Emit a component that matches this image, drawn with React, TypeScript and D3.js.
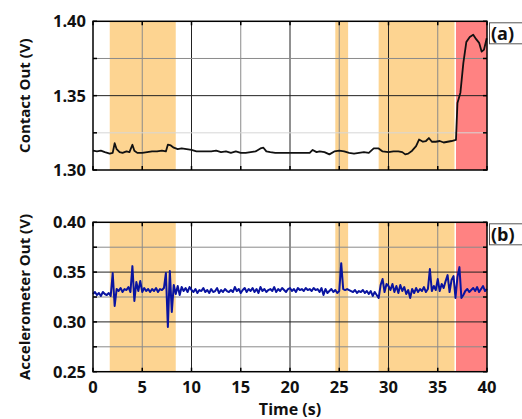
import React from "react";
import * as d3 from "d3";

const width = 522;
const height = 419;
const plotLeft = 93;
const plotRight = 487;

// time axis
const xTicks = [0, 5, 10, 15, 20, 25, 30, 35, 40];

// shaded event windows (s)
const orangeBands = [
  [1.7, 8.4],
  [24.6, 25.9],
  [29.0, 36.7],
];
const redBands = [[36.85, 40]];

// (a) contact sensor output
const contactTime = [
  0, 0.4, 0.8, 1.2, 1.7, 2.0, 2.2, 2.4, 2.7, 3.0, 3.4, 3.7, 4.0, 4.2, 4.5, 5.0,
  5.5, 6.0, 6.5, 7.0, 7.4, 7.6, 7.9, 8.2, 8.6, 9.0, 9.5, 10.0, 10.5, 11.0, 11.5,
  12.0, 12.5, 13.0, 13.5, 14.0, 14.5, 15.0, 15.5, 16.0, 16.5, 17.0, 17.3, 17.6,
  18.0, 18.5, 19.0, 19.5, 20.0, 21.0, 21.5, 22.0, 22.3, 22.7, 23.0, 23.5, 24.0,
  24.5, 25.0, 25.5, 26.0, 26.5, 27.0, 27.5, 28.0, 28.5, 29.0, 29.4, 30.0, 30.5,
  31.0, 31.4, 31.7, 32.0, 32.4, 32.8, 33.1, 33.5, 33.8, 34.1, 34.4, 34.8, 35.2,
  35.6, 36.0, 36.4, 36.85, 37.0, 37.3, 37.6, 37.9, 38.25, 38.6, 38.9, 39.2,
  39.46, 39.7, 39.97,
];
const contactOut = [
  1.313, 1.3125, 1.313, 1.312, 1.311, 1.3115, 1.318, 1.314, 1.312, 1.3115,
  1.3125, 1.312, 1.317, 1.313, 1.3115, 1.3115, 1.312, 1.3125, 1.3125, 1.313,
  1.3125, 1.317, 1.3165, 1.315, 1.314, 1.3145, 1.314, 1.3135, 1.3125, 1.3125,
  1.3125, 1.3125, 1.313, 1.312, 1.3125, 1.3115, 1.3125, 1.3115, 1.3115, 1.312,
  1.3125, 1.3145, 1.315, 1.3125, 1.312, 1.3115, 1.3115, 1.3115, 1.3115, 1.3115,
  1.3115, 1.3115, 1.3135, 1.312, 1.3125, 1.312, 1.3105, 1.3125, 1.313, 1.3125,
  1.3115, 1.311, 1.3115, 1.312, 1.3115, 1.3145, 1.3145, 1.3125, 1.312, 1.3125,
  1.3125, 1.312, 1.3105, 1.311, 1.313, 1.316, 1.3205, 1.319, 1.3195, 1.3215,
  1.319, 1.319, 1.3195, 1.3185, 1.319, 1.3195, 1.3202, 1.345, 1.352, 1.372,
  1.386, 1.3895, 1.391, 1.388, 1.3855, 1.3796, 1.381, 1.3886,
];

// (b) accelerometer output, one sample every 0.2 s
const accelStep = 0.2;
const accelOut = [
  0.328, 0.33, 0.327, 0.329, 0.326, 0.33, 0.328, 0.327, 0.329, 0.326,
  0.349, 0.316, 0.333, 0.331, 0.334, 0.33, 0.333, 0.332, 0.335, 0.33,
  0.356, 0.321, 0.34, 0.331, 0.341, 0.33, 0.334, 0.331, 0.333, 0.33,
  0.333, 0.331, 0.334, 0.33, 0.333, 0.332, 0.334, 0.349, 0.295, 0.351,
  0.31, 0.337, 0.328, 0.336, 0.327, 0.335, 0.331, 0.334, 0.33, 0.335,
  0.332, 0.33, 0.333, 0.329, 0.332, 0.331, 0.334, 0.33, 0.332, 0.329,
  0.333, 0.33, 0.331, 0.334, 0.329, 0.332, 0.33, 0.333, 0.331, 0.33,
  0.332, 0.33, 0.335, 0.331, 0.333, 0.329, 0.332, 0.334, 0.33, 0.333,
  0.331, 0.334, 0.33, 0.333, 0.329, 0.335, 0.331, 0.333, 0.33, 0.332,
  0.333, 0.331, 0.335, 0.33, 0.333, 0.331, 0.334, 0.332, 0.33, 0.333,
  0.334, 0.331, 0.333, 0.33, 0.334, 0.332, 0.333, 0.331, 0.334, 0.332,
  0.333, 0.331, 0.334, 0.332, 0.333, 0.33, 0.334, 0.327, 0.333, 0.329,
  0.331, 0.333, 0.33, 0.332, 0.329, 0.331, 0.359, 0.333, 0.332, 0.333,
  0.332, 0.331, 0.33, 0.332, 0.329, 0.331, 0.33, 0.332, 0.329, 0.331,
  0.328, 0.331, 0.326, 0.33, 0.327, 0.324, 0.337, 0.343, 0.33, 0.338,
  0.336, 0.332, 0.338, 0.33, 0.336, 0.329, 0.337, 0.331, 0.335, 0.328,
  0.332, 0.324, 0.333, 0.329, 0.334, 0.33, 0.333, 0.331, 0.335, 0.33,
  0.333, 0.353, 0.331, 0.336, 0.332, 0.343, 0.331, 0.338, 0.334, 0.341,
  0.347, 0.33, 0.342, 0.346, 0.324, 0.345, 0.355, 0.324, 0.327, 0.331,
  0.333, 0.33, 0.332, 0.334, 0.331, 0.335, 0.33, 0.333, 0.336, 0.331, 0.333,
];

const contactTicks = [1.3, 1.325, 1.35, 1.375, 1.4];
const contactLabels = ["1.30", "1.35", "1.40"];
const accelTicks = [0.25, 0.275, 0.3, 0.325, 0.35, 0.375, 0.4];
const accelLabels = ["0.25", "0.30", "0.35", "0.40"];

const font = "'Open Sans', 'DejaVu Sans', sans-serif";

const x = d3.scaleLinear().domain([0, 40]).range([plotLeft, plotRight]);

type PanelProps = {
  top: number;
  bottom: number;
  domain: [number, number];
  yTicks: number[];
  yLabels: string[];
  faint: number[];
  xs: number[];
  ys: number[];
  color: string;
  strokeWidth: number;
  yTitle: string;
  tag: string;
  showX: boolean;
};

function Panel(p: PanelProps) {
  const y = d3.scaleLinear().domain(p.domain).range([p.bottom, p.top]);
  const line = d3
    .line<number>()
    .x((_, i) => x(p.xs[i]))
    .y((d) => y(d));
  const midY = (p.top + p.bottom) / 2;
  const isMajorY = (v: number) => Math.abs(Math.round(v / 0.05) * 0.05 - v) < 1e-6;
  return (
    <g>
      {orangeBands.map(([a, b], i) => (
        <rect key={"o" + i} x={x(a)} y={p.top} width={x(b) - x(a)} height={p.bottom - p.top} fill="#fdd491" />
      ))}
      {redBands.map(([a, b], i) => (
        <rect key={"r" + i} x={x(a)} y={p.top} width={x(b) - x(a)} height={p.bottom - p.top} fill="#ff8282" />
      ))}
      {xTicks.slice(1, -1).map((t) => (
        <line
          key={"gx" + t}
          x1={x(t)}
          x2={x(t)}
          y1={p.top}
          y2={p.bottom}
          stroke={t % 10 === 0 ? "#222" : "#8a8a8a"}
          strokeWidth={1}
        />
      ))}
      {p.yTicks.slice(1, -1).map((v) => (
        <line
          key={"gy" + v}
          x1={plotLeft}
          x2={plotRight}
          y1={y(v)}
          y2={y(v)}
          stroke={isMajorY(v) ? "#222" : p.faint.includes(v) ? "#d6d6d6" : "#8a8a8a"}
          strokeWidth={1}
        />
      ))}
      {xTicks.map((t) => (
        <g key={"tx" + t}>
          <line x1={x(t)} x2={x(t)} y1={p.top} y2={p.top + 4} stroke="#000" strokeWidth={1.5} />
          <line x1={x(t)} x2={x(t)} y1={p.bottom} y2={p.bottom - 4} stroke="#000" strokeWidth={1.5} />
        </g>
      ))}
      {p.yTicks.map((v) => (
        <g key={"ty" + v}>
          <line x1={plotLeft} x2={plotLeft + 4} y1={y(v)} y2={y(v)} stroke="#000" strokeWidth={1.5} />
          <line x1={plotRight} x2={plotRight - 4} y1={y(v)} y2={y(v)} stroke="#000" strokeWidth={1.5} />
        </g>
      ))}
      <path d={line(p.ys) || ""} fill="none" stroke={p.color} strokeWidth={p.strokeWidth} strokeLinejoin="round" />
      <rect x={plotLeft} y={p.top} width={plotRight - plotLeft} height={p.bottom - p.top} fill="none" stroke="#000" strokeWidth={1.5} />
      {p.yLabels.map((s) => (
        <text
          key={"ly" + s}
          x={plotLeft - 7}
          y={y(+s)}
          dy="0.36em"
          textAnchor="end"
          fontFamily={font}
          fontWeight="bold"
          fontSize={16.5}
          fill="#111"
        >
          {s}
        </text>
      ))}
      {p.showX &&
        xTicks.map((t) => (
          <text
            key={"lx" + t}
            x={x(t)}
            y={p.bottom + 21}
            textAnchor="middle"
            fontFamily={font}
            fontWeight="bold"
            fontSize={16.5}
            fill="#111"
          >
            {t}
          </text>
        ))}
      <text
        transform={`translate(25, ${midY}) rotate(-90)`}
        dy="0.35em"
        textAnchor="middle"
        fontFamily={font}
        fontWeight="bold"
        fontSize={15}
        fill="#111"
      >
        {p.yTitle}
      </text>
      <rect x={489.5} y={p.top + 1.5} width={40} height={21} fill="#fff" stroke="#555" strokeWidth={1} />
      <text x={491} y={p.top + 12} dy="0.36em" fontFamily={font} fontWeight="bold" fontSize={18} fill="#111">
        {p.tag}
      </text>
    </g>
  );
}

export default function App() {
  const accelTime = accelOut.map((_, i) => i * accelStep);
  return (
    <svg
      width={width}
      height={height}
      style={{ position: "absolute", left: 0, top: 0, background: "#fff" }}
    >
      <Panel
        top={21.3}
        bottom={170}
        domain={[1.3, 1.4]}
        yTicks={contactTicks}
        yLabels={contactLabels}
        faint={[1.325]}
        xs={contactTime}
        ys={contactOut}
        color="#111"
        strokeWidth={1.8}
        yTitle="Contact Out (V)"
        tag="(a)"
        showX={false}
      />
      <Panel
        top={222.3}
        bottom={371.7}
        domain={[0.25, 0.4]}
        yTicks={accelTicks}
        yLabels={accelLabels}
        faint={[]}
        xs={accelTime}
        ys={accelOut}
        color="#0a14a0"
        strokeWidth={2}
        yTitle="Accelerometer Out (V)"
        tag="(b)"
        showX={true}
      />
      <text
        x={(plotLeft + plotRight) / 2}
        y={415}
        textAnchor="middle"
        fontFamily={font}
        fontWeight="bold"
        fontSize={16}
        fill="#111"
      >
        Time (s)
      </text>
    </svg>
  );
}
